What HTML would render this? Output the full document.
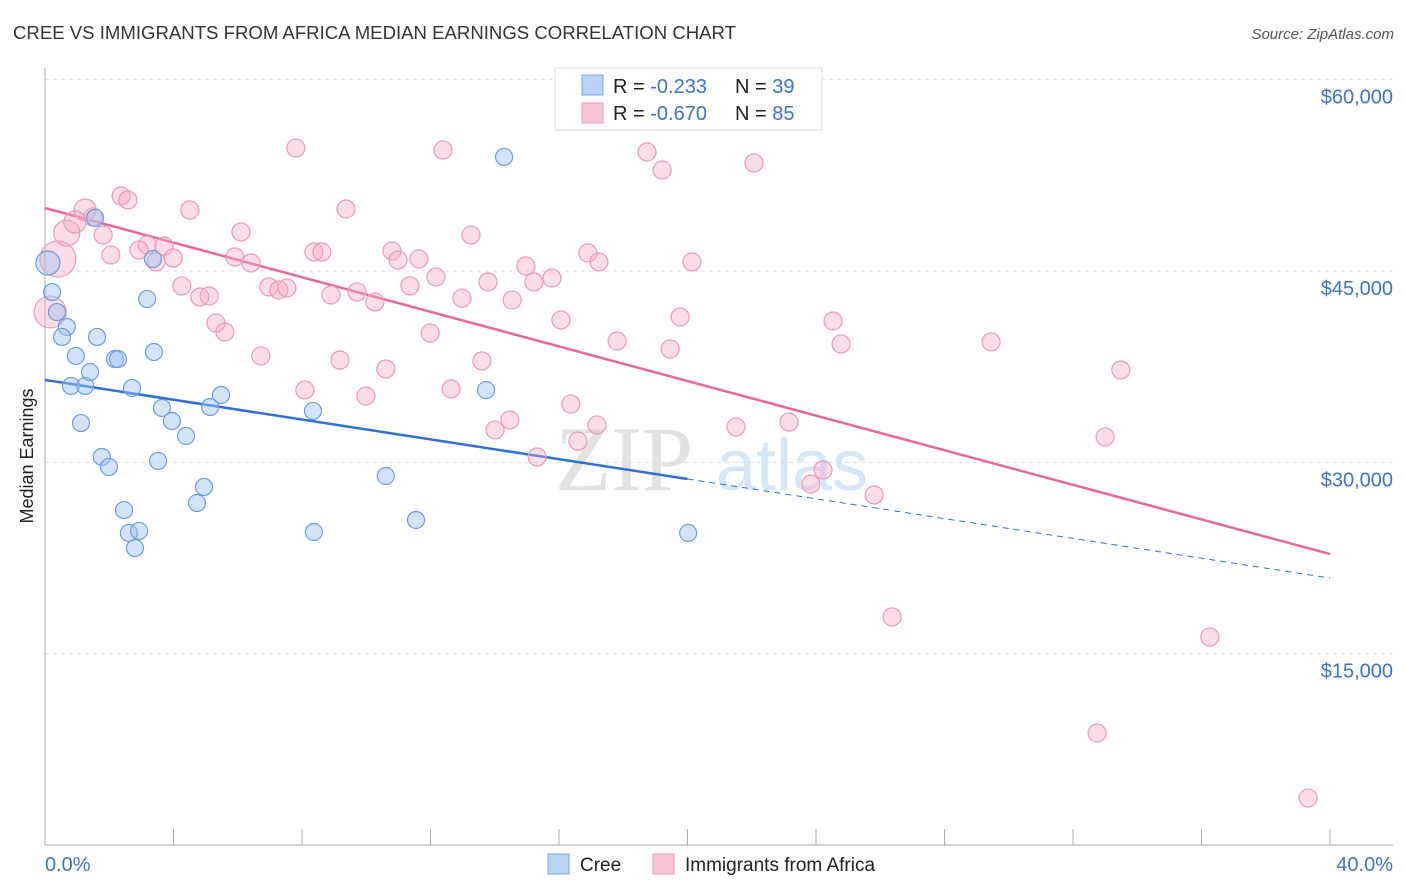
<!DOCTYPE html>
<html><head><meta charset="utf-8">
<style>
body{margin:0;background:#fff;font-family:"Liberation Sans",sans-serif;}
svg{display:block}
</style></head>
<body>
<svg id="chart" width="1406" height="892" xmlns="http://www.w3.org/2000/svg">
<text x="13" y="39" font-size="18" fill="#333" textLength="723" lengthAdjust="spacingAndGlyphs">CREE VS IMMIGRANTS FROM AFRICA MEDIAN EARNINGS CORRELATION CHART</text>
<text x="1394" y="39" font-size="15" fill="#555" font-style="italic" text-anchor="end">Source: ZipAtlas.com</text>
<text x="0" y="0" transform="translate(33,456) rotate(-90)" font-size="18" fill="#222" text-anchor="middle">Median Earnings</text>
<text x="555" y="490" font-size="92" fill="#e2e2e2" font-family="Liberation Serif,serif">ZIP</text>
<text x="716" y="490" font-size="72" fill="#d6e5f7">atlas</text>
<g id="grid"></g>
<g id="axes"></g>
<g id="lines"></g>
<g id="points"></g>
<g>
<rect x="555" y="68" width="267" height="62" fill="#fff" stroke="#ddd"/>
<rect x="582" y="75" width="21" height="20" fill="#b8d3f5" stroke="#7aa8e6"/>
<rect x="582" y="103" width="21" height="20" fill="#f9c4d4" stroke="#ec9ab3"/>
<text x="613" y="93" font-size="20" fill="#222">R = <tspan fill="#3a73d0">-0.233</tspan><tspan x="735">N = </tspan><tspan fill="#3a73d0">39</tspan></text>
<text x="613" y="120" font-size="20" fill="#222">R = <tspan fill="#3a73d0">-0.670</tspan><tspan x="735">N = </tspan><tspan fill="#3a73d0">85</tspan></text>
</g>
<g>
<rect x="548" y="854" width="21" height="20" fill="#b8d3f5" stroke="#7aa8e6"/>
<text x="580" y="871" font-size="19" fill="#222">Cree</text>
<rect x="653" y="854" width="21" height="20" fill="#f9c4d4" stroke="#ec9ab3"/>
<text x="685" y="871" font-size="19" fill="#222">Immigrants from Africa</text>
</g>
</svg>
<script>
const yTicks=[15000,30000,45000,60000];
const yTickLabels=["$15,000","$30,000","$45,000","$60,000"];
const xTickLabels=["0.0%","40.0%"];
const creeX=[0.09,0.22,0.37,0.68,0.53,1.62,0.96,0.81,1.25,1.40,2.18,2.27,3.39,3.18,3.36,1.56,2.71,1.12,1.77,1.99,3.52,3.64,3.95,4.39,5.14,5.48,4.95,4.73,2.46,2.61,2.93,2.80,8.34,8.37,10.61,11.55,13.73,14.29,20.02];
const creeY=[45630,43350,41780,40610,39830,39830,38340,35990,35990,37080,38100,38100,38650,42810,45940,49160,35830,33080,30420,29640,30110,34260,33240,32070,34340,35280,28070,26810,26260,24460,24620,23280,34030,24540,28930,25480,35670,53940,24460];
const afrX=[0.40,0.16,0.68,1.25,0.93,1.49,1.81,2.05,2.37,2.58,3.18,2.93,3.46,3.71,3.99,4.51,4.26,4.82,5.11,5.32,5.60,5.91,6.10,6.41,6.72,6.97,7.28,7.53,7.81,8.09,8.37,8.62,8.90,9.18,9.37,9.71,9.99,10.27,10.61,10.80,10.99,11.36,11.64,11.99,12.17,12.39,12.64,12.98,13.26,13.60,13.79,14.01,14.47,14.54,14.97,15.22,15.32,15.78,16.06,16.37,16.59,16.90,17.18,17.24,17.81,18.74,19.21,19.46,19.77,20.14,21.51,22.07,23.16,23.84,24.22,24.53,24.78,25.81,26.37,29.45,32.75,33.00,33.49,36.26,39.32];
const afrY=[45940,41790,47980,49780,48840,49240,47820,46260,50880,50570,47040,46650,45710,46960,46020,49780,43830,42960,43040,40920,40220,46100,48060,45630,38340,43750,43510,43670,54640,35670,46490,46490,43120,38020,49860,43360,35200,42570,37320,46570,45860,43830,45940,40140,44530,54490,35750,42880,47820,37950,44140,32540,33320,42730,45390,44140,30420,44450,41160,34570,31670,46410,32930,45710,39510,54330,52920,38890,41400,45710,32770,53470,33160,28300,29400,41080,39280,27440,17880,39440,8780,31990,37240,16310,3680];
const creeSize=[12];
const afrSize=[18,16,13,11,11];
const creeTrend=[36460,20930];
const afrTrend=[49940,22810];
const creeSolidEnd=20;

const X=v=>45+v/40*1285;
const Y=v=>845-v/45000*574;
const NS="http://www.w3.org/2000/svg";
function mk(t,a,p){const e=document.createElementNS(NS,t);for(const k in a)e.setAttribute(k,a[k]);p.appendChild(e);return e;}
const grid=document.getElementById('grid'),axes=document.getElementById('axes'),lines=document.getElementById('lines'),pts=document.getElementById('points');
yTicks.forEach((t,i)=>{
 const l=mk('line',{x1:45,x2:1393,y1:Y(t),y2:Y(t),stroke:'#ddd','stroke-dasharray':'4,4'},grid);
 
 
 const tx=mk('text',{x:1393,y:Y(t)+24,'font-size':20,fill:'#3a73d0','text-anchor':'end'},axes);
 tx.textContent=yTickLabels[i];
 
 
});
const ya=mk('line',{x1:45,x2:45,y1:68,y2:845,stroke:'#aaa'},axes);


const xa=mk('line',{x1:45,x2:1393,y1:845,y2:845,stroke:'#aaa'},axes);


for(let i=1;i<=10;i++){
 const t=mk('line',{x1:X(i*4),x2:X(i*4),y1:829,y2:845,stroke:'#aaa'},axes);
 
 
}
[[0,'start',45],[40,'end',1393]].forEach((d,i)=>{
 const tx=mk('text',{x:d[2],y:871,'font-size':20,fill:'#3a73d0','text-anchor':d[1]},axes);
 tx.textContent=xTickLabels[i];
 
 
});
function trendAt(tr,x){return tr[0]+(tr[1]-tr[0])*x/40;}
const pl=mk('line',{x1:X(0),y1:Y(afrTrend[0]),x2:X(40),y2:Y(afrTrend[1]),stroke:'#e8689a','stroke-width':2.5},lines);


const bl=mk('line',{x1:X(0),y1:Y(creeTrend[0]),x2:X(creeSolidEnd),y2:Y(trendAt(creeTrend,creeSolidEnd)),stroke:'#2f6fd6','stroke-width':2.5},lines);


const bd=mk('line',{x1:X(creeSolidEnd),y1:Y(trendAt(creeTrend,creeSolidEnd)),x2:X(40),y2:Y(creeTrend[1]),stroke:'#2f6fd6','stroke-width':1,'stroke-dasharray':'6,5'},lines);


afrX.forEach((x,i)=>{
 const c=mk('circle',{cx:X(x),cy:Y(afrY[i]),r:afrSize[i]||9,fill:'rgba(246,170,195,0.4)',stroke:'#ec9ab3','stroke-width':1.2},pts);
 
 
});
creeX.forEach((x,i)=>{
 const c=mk('circle',{cx:X(x),cy:Y(creeY[i]),r:creeSize[i]||8.5,fill:'rgba(160,196,240,0.45)',stroke:'#6b9de0','stroke-width':1.2},pts);
 
 
});
</script>
</body></html>
